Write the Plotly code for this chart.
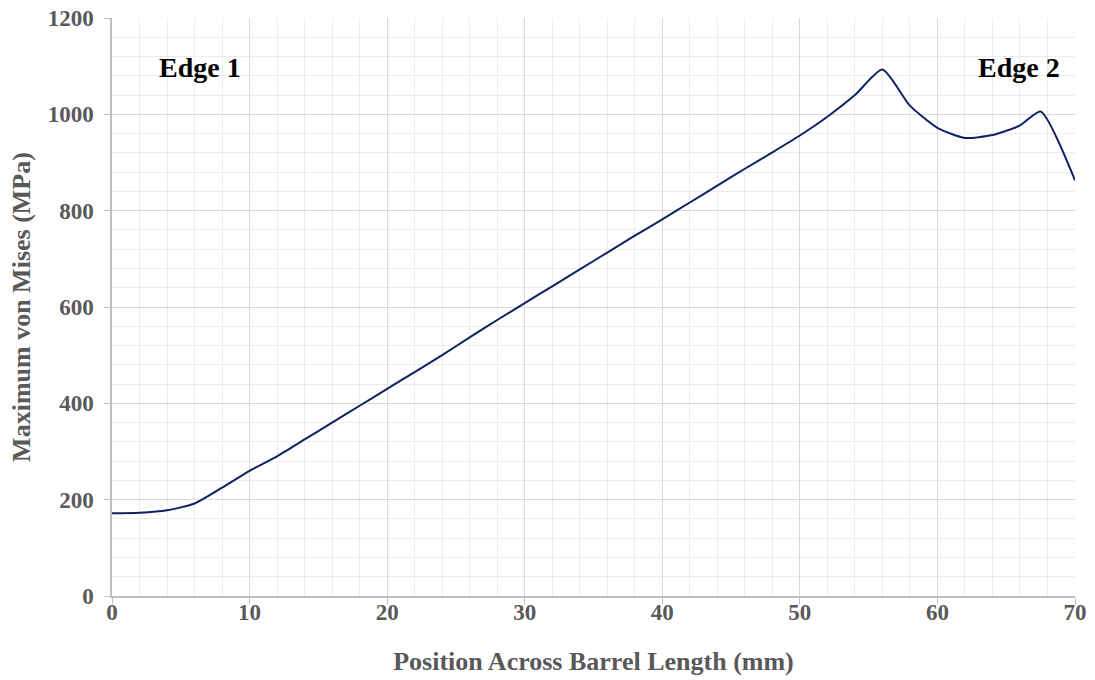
import plotly.graph_objects as go

position_mm = [0, 2, 4, 6, 8, 10, 12, 14, 16, 18, 20, 22, 24, 26, 28, 30, 32, 34, 36, 38,
               40, 42, 44, 46, 48, 50, 52, 54, 56, 58, 60, 62, 64, 66, 67.5, 70]
von_mises_mpa = [172, 173, 178, 192, 225, 260, 290, 325, 360, 395, 430, 465, 500, 537, 573,
                 608, 643, 678, 713, 748, 782, 817, 852, 887, 921, 956, 995, 1040, 1093,
                 1018, 972, 951, 957, 977, 1006, 863]

x_ticks = [0, 10, 20, 30, 40, 50, 60, 70]
y_ticks = [0, 200, 400, 600, 800, 1000, 1200]

labels = ["Edge 1", "Edge 2"]
label_x = [6.4, 65.9]
label_y = [1098, 1098]

fig = go.Figure()
fig.add_trace(go.Scatter(
    x=position_mm, y=von_mises_mpa, mode="lines",
    line=dict(color="#0e2262", width=2, shape="spline", smoothing=0.6),
    showlegend=False, hoverinfo="x+y"))

for t, lx, ly in zip(labels, label_x, label_y):
    fig.add_annotation(x=lx, y=ly, text="<b>%s</b>" % t, showarrow=False,
                       font=dict(family="Liberation Serif", size=28, color="black"))

tickfont = dict(family="Liberation Serif", size=23, color="#595959")
titlefont = dict(family="Liberation Serif", size=26, color="#595959")

fig.update_xaxes(
    range=[0, 70], tickvals=x_ticks, ticktext=["<b>%d</b>" % v for v in x_ticks],
    tickfont=tickfont, ticklabelstandoff=-11,
    title=dict(text="<b>Position Across Barrel Length (mm)</b>", font=titlefont, standoff=27),
    showgrid=True, gridcolor="#d9d9d9", gridwidth=1.3,
    minor=dict(dtick=2, showgrid=True, gridcolor="#ececec", gridwidth=1.3),
    showline=True, linecolor="#bfbfbf", linewidth=1.5,
    ticks="outside", ticklen=6, tickcolor="#bfbfbf", zeroline=False)
fig.update_yaxes(
    range=[0, 1200], tickvals=y_ticks, ticktext=["<b>%d</b>" % v for v in y_ticks],
    tickfont=tickfont, ticklabelstandoff=6,
    title=dict(text="<b>Maximum von Mises (MPa)</b>", font=titlefont, standoff=10),
    showgrid=True, gridcolor="#d9d9d9", gridwidth=1.3,
    minor=dict(dtick=40, showgrid=True, gridcolor="#ececec", gridwidth=1.3),
    showline=True, linecolor="#bfbfbf", linewidth=1.5,
    ticks="outside", ticklen=6, tickcolor="#bfbfbf", zeroline=False)

fig.update_layout(
    width=1095, height=680,
    margin=dict(l=112, r=20, t=18, b=84, autoexpand=False),
    plot_bgcolor="white", paper_bgcolor="white",
)

fig.write_html("out.html", config={"displayModeBar": False})

with open("out.html", "r", encoding="utf-8") as f:
    html = f.read()
html = html.replace("<head>", "<head><style>html,body{margin:0;padding:0;overflow:hidden;}</style>", 1)
with open("out.html", "w", encoding="utf-8") as f:
    f.write(html)
